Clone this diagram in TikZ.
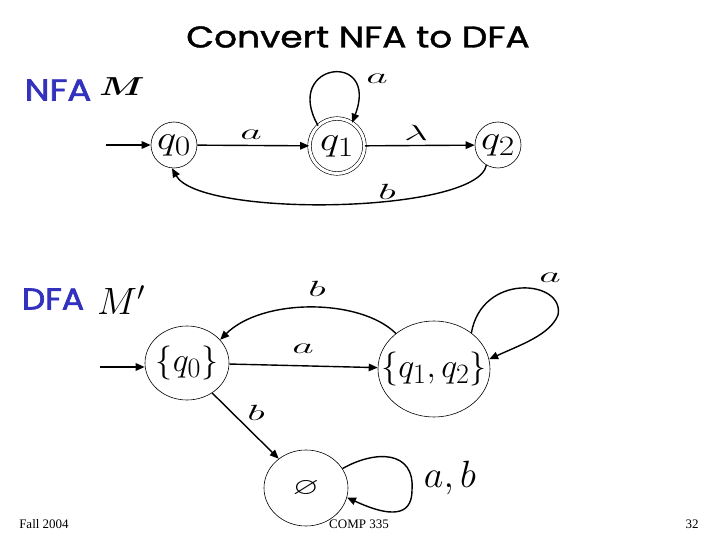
\RequirePackage{fix-cm}
\documentclass[tikz,border=0pt]{standalone}
\usepackage{amsmath}
\usepackage{amssymb}
\usepackage{bm}
\usepackage{fontspec}
\usetikzlibrary{arrows.meta,shapes.geometric}
\newfontfamily\titlefont[FakeBold=1.2]{Poppins}
\newfontfamily\secfont[FakeBold=2]{Poppins}
\newfontfamily\footfont{Liberation Serif}
\DeclareMathSizes{34}{34}{28}{22}
\definecolor{labblue}{RGB}{50,50,190}
\newcommand\hx[2]{\scalebox{#1}[1]{#2}}
\newcommand\elab[1]{\hx{1.9}{\fontsize{22}{24}\selectfont$#1$}}
\begin{document}
\begin{tikzpicture}[x=1pt,y=-1pt,
  st/.style={circle,draw,line width=0.6pt,minimum size=46pt,inner sep=0pt},
  acc/.style={circle,draw,line width=0.6pt,double,double distance=3pt,minimum size=55pt,inner sep=0pt},
  dst/.style={ellipse,draw,line width=0.6pt,inner sep=0pt},
  edge/.style={line width=1.4pt,-{Triangle[length=9pt,width=7.5pt]}},
  lbl/.style={inner sep=0pt},
  big/.style={font=\fontsize{34}{38}\selectfont},
  sec/.style={inner sep=0pt,text=labblue,font=\secfont\fontsize{30}{32}\selectfont},
  foot/.style={inner sep=0pt,font=\footfont\fontsize{13}{14}\selectfont}]
\useasboundingbox (0,0) rectangle (720,540);
\fill[white] (0,0) rectangle (720,540);

% title and section labels
\node[inner sep=0pt,font=\titlefont\fontsize{30}{32}\selectfont] (title) at (358,37) {\hx{1.2}{Convert NFA to DFA}};
\node[sec] (nfa) at (58,90) {\hx{1.18}{NFA}};
\node[sec] (dfa) at (53,299) {\hx{1.1}{DFA}};
\node[lbl] (M) at (122,87) {\hx{1.4}{\fontsize{26}{28}\selectfont$\bm{M}$}};
\node[lbl] (Mp) at (121,300) {\fontsize{38}{40}\selectfont$M'$};

% NFA
\node[st,big] (q0) at (174,145) {\hx{1.2}{$q_0$}};
\node[acc,big] (q1) at (337,146) {\hx{1.2}{$q_1$}};
\node[st,big] (q2) at (498,145) {\hx{1.2}{$q_2$}};
\coordinate (s0) at (106,145);
\draw[edge] (s0) -- (q0);
\draw[edge] (q0) -- (q1);
\draw[edge] (q1) -- (q2);
\draw[edge] (q1.133) .. controls (282,62) and (380,50) .. (q1.57);
\draw[edge] (q2.240) .. controls (477,214) and (200,218) .. (q0.265);
\node[lbl] (la1) at (251,135) {\elab{a}};
\node[lbl] (ll) at (416,133) {\elab{\lambda}};
\node[lbl] (la2) at (377,79) {\elab{a}};
\node[lbl] (lb1) at (387,192) {\elab{b}};

% DFA
\node[dst,big,minimum width=84pt,minimum height=74pt] (A) at (187,363) {\makebox[40pt]{$\{q_0\}$}};
\node[dst,big,minimum width=112pt,minimum height=96pt] (B) at (434,369) {\makebox[60pt]{$\{q_1,q_2\}$}};
\node[dst,minimum width=84pt,minimum height=76pt] (C) at (306,488) {\hx{1.4}{\fontsize{24}{26}\selectfont$\varnothing$}};
\coordinate (s1) at (100,367);
\draw[edge] (s1) -- (A.west |- s1);
\draw[edge] (A) -- (B);
\draw[edge] (B.137) .. controls (360,298) and (262,298) .. (A.35);
\draw[edge] (B.44) .. controls (482,272) and (565,280) .. (558,315) .. controls (550,335) and (520,345) .. (B.10);
\draw[edge] (A.-50) -- (C.133);
\draw[edge] (C.28) .. controls (375,450) and (415,450) .. (412,490) .. controls (412,510) and (400,522) .. (C.-13);
\node[lbl] (la3) at (303,349) {\elab{a}};
\node[lbl] (lb2) at (317,289) {\elab{b}};
\node[lbl] (la4) at (550,278) {\elab{a}};
\node[lbl] (lb3) at (256,413) {\elab{b}};
\node[lbl,anchor=base] (lab) at (450,487) {\fontsize{38}{40}\selectfont$a,b$};

% footer
\node[foot] (f1) at (44,524) {Fall 2004};
\node[foot] (f2) at (359,524) {COMP 335};
\node[foot] (f3) at (692,524) {32};
\end{tikzpicture}
\end{document}
